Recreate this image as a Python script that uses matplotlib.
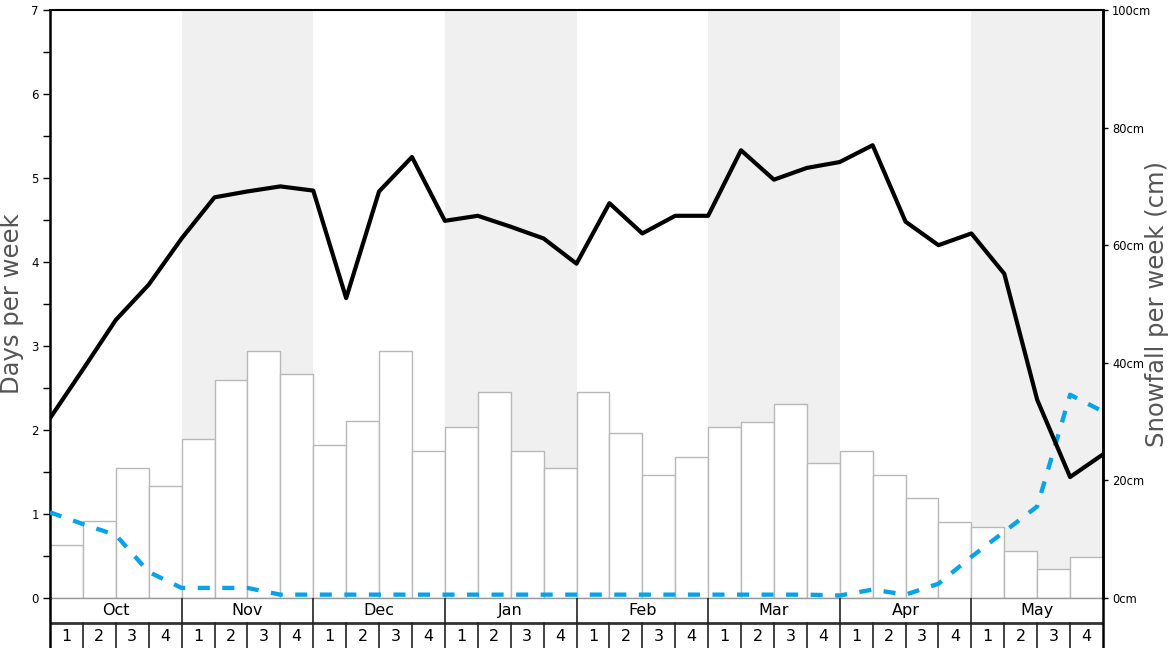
import numpy as np
import matplotlib.pyplot as plt

months = ['Oct', 'Nov', 'Dec', 'Jan', 'Feb', 'Mar', 'Apr', 'May']
weeks = ['1', '2', '3', '4']

# weekly bars, read on the left (days per week) scale
bar_vals = [0.63, 0.92, 1.55, 1.33, 1.89, 2.60, 2.94, 2.67,
            1.82, 2.11, 2.94, 1.75, 2.04, 2.45, 1.75, 1.55,
            2.45, 1.96, 1.47, 1.68, 2.03, 2.10, 2.31, 1.61,
            1.75, 1.47, 1.19, 0.91, 0.84, 0.56, 0.35, 0.49]

# line values at the week boundaries (33 points)
black_vals = [2.14, 2.72, 3.31, 3.73, 4.28, 4.77, 4.84, 4.90, 4.85, 3.57,
              4.84, 5.25, 4.49, 4.55, 4.42, 4.28, 3.98, 4.70, 4.34, 4.55,
              4.55, 5.33, 4.98, 5.12, 5.19, 5.39, 4.48, 4.20, 4.34, 3.86,
              2.36, 1.44, 1.71]
blue_vals = [1.02, 0.88, 0.75, 0.31, 0.12, 0.12, 0.12, 0.04, 0.04, 0.04,
             0.04, 0.04, 0.04, 0.04, 0.04, 0.04, 0.04, 0.04, 0.04, 0.04,
             0.04, 0.04, 0.04, 0.04, 0.03, 0.10, 0.04, 0.17, 0.49, 0.79,
             1.09, 2.42, 2.22]

cm_ticks = [0, 20, 40, 60, 80, 100]

W, H = 1168, 648
fig = plt.figure(figsize=(W / 100, H / 100), dpi=100)

#------------------------------
# main chart
#------------------------------
ax = fig.add_axes([50 / W, 50 / H, 1053 / W, 588 / H])
nweeks = len(bar_vals)
for i in range(len(months)):
    if i % 2 == 1:
        ax.axvspan(i * 4, i * 4 + 4, color='#f0f0f0', lw=0, zorder=0)

ax.bar(np.arange(nweeks) + 0.5, bar_vals, width=1.0, color='white',
       edgecolor='#b8b8b8', linewidth=1.0, zorder=2)
ax.plot(np.arange(len(blue_vals)), blue_vals, color='#07a3ea', lw=3.1,
        ls=(0, (2.8, 2.9)), zorder=3)
ax.plot(np.arange(len(black_vals)), black_vals, color='black', lw=3,
        zorder=4)

ax.set_xlim(0, nweeks)
ax.set_ylim(0, 7)
ax.set_xticks([])
ax.set_yticks(range(8))
ax.set_yticks(np.arange(0.5, 7, 1), minor=True)
ax.tick_params(axis='y', which='both', direction='out', length=5, width=1,
               labelsize=8.5, pad=3)
for s in ['left', 'right']:
    ax.spines[s].set_linewidth(1.8)
ax.spines['top'].set_linewidth(1.5)
ax.spines['bottom'].set_color('#999999')
ax.spines['bottom'].set_linewidth(1)

ax2 = ax.twinx()
ax2.set_ylim(0, 100)
ax2.set_yticks(cm_ticks)
ax2.set_yticklabels([f'{v}cm' for v in cm_ticks])
ax2.tick_params(axis='y', direction='out', length=3.5, width=1,
                labelsize=8.3, pad=3)
for s in ['left', 'top', 'bottom']:
    ax2.spines[s].set_visible(False)
ax2.spines['right'].set_linewidth(1.8)

fig.text(12 / W, 1 - 304 / H, 'Days per week', rotation=90, ha='center',
         va='center', fontsize=17.5, color='#555555')
fig.text(1157 / W, 1 - 304 / H, 'Snowfall per week (cm)', rotation=90,
         ha='center', va='center', fontsize=17.5, color='#555555')

#------------------------------
# month / week table under the chart
#------------------------------
tab = fig.add_axes([50 / W, 0, 1053 / W, 50 / H])
tab.set_xlim(0, nweeks)
tab.set_ylim(0, 2)
tab.set_xticks([])
tab.set_yticks([])
tab.patch.set_alpha(0)
for s in ['top', 'bottom']:
    tab.spines[s].set_visible(False)
for s in ['left', 'right']:
    tab.spines[s].set_linewidth(1.8)
tab.axhline(1, color='#333333', lw=2)
for i, m in enumerate(months):
    if i > 0:
        tab.plot([i * 4, i * 4], [1, 2], color='#222222', lw=1.2)
    tab.text(i * 4 + 2, 1.5, m, ha='center', va='center', fontsize=11.5)
    for j, w in enumerate(weeks):
        k = i * 4 + j
        if k > 0:
            tab.plot([k, k], [0, 1], color='#222222', lw=1.2)
        tab.text(k + 0.5, 0.45, w, ha='center', va='center', fontsize=11.5)

fig.savefig('out.png', dpi=100)
